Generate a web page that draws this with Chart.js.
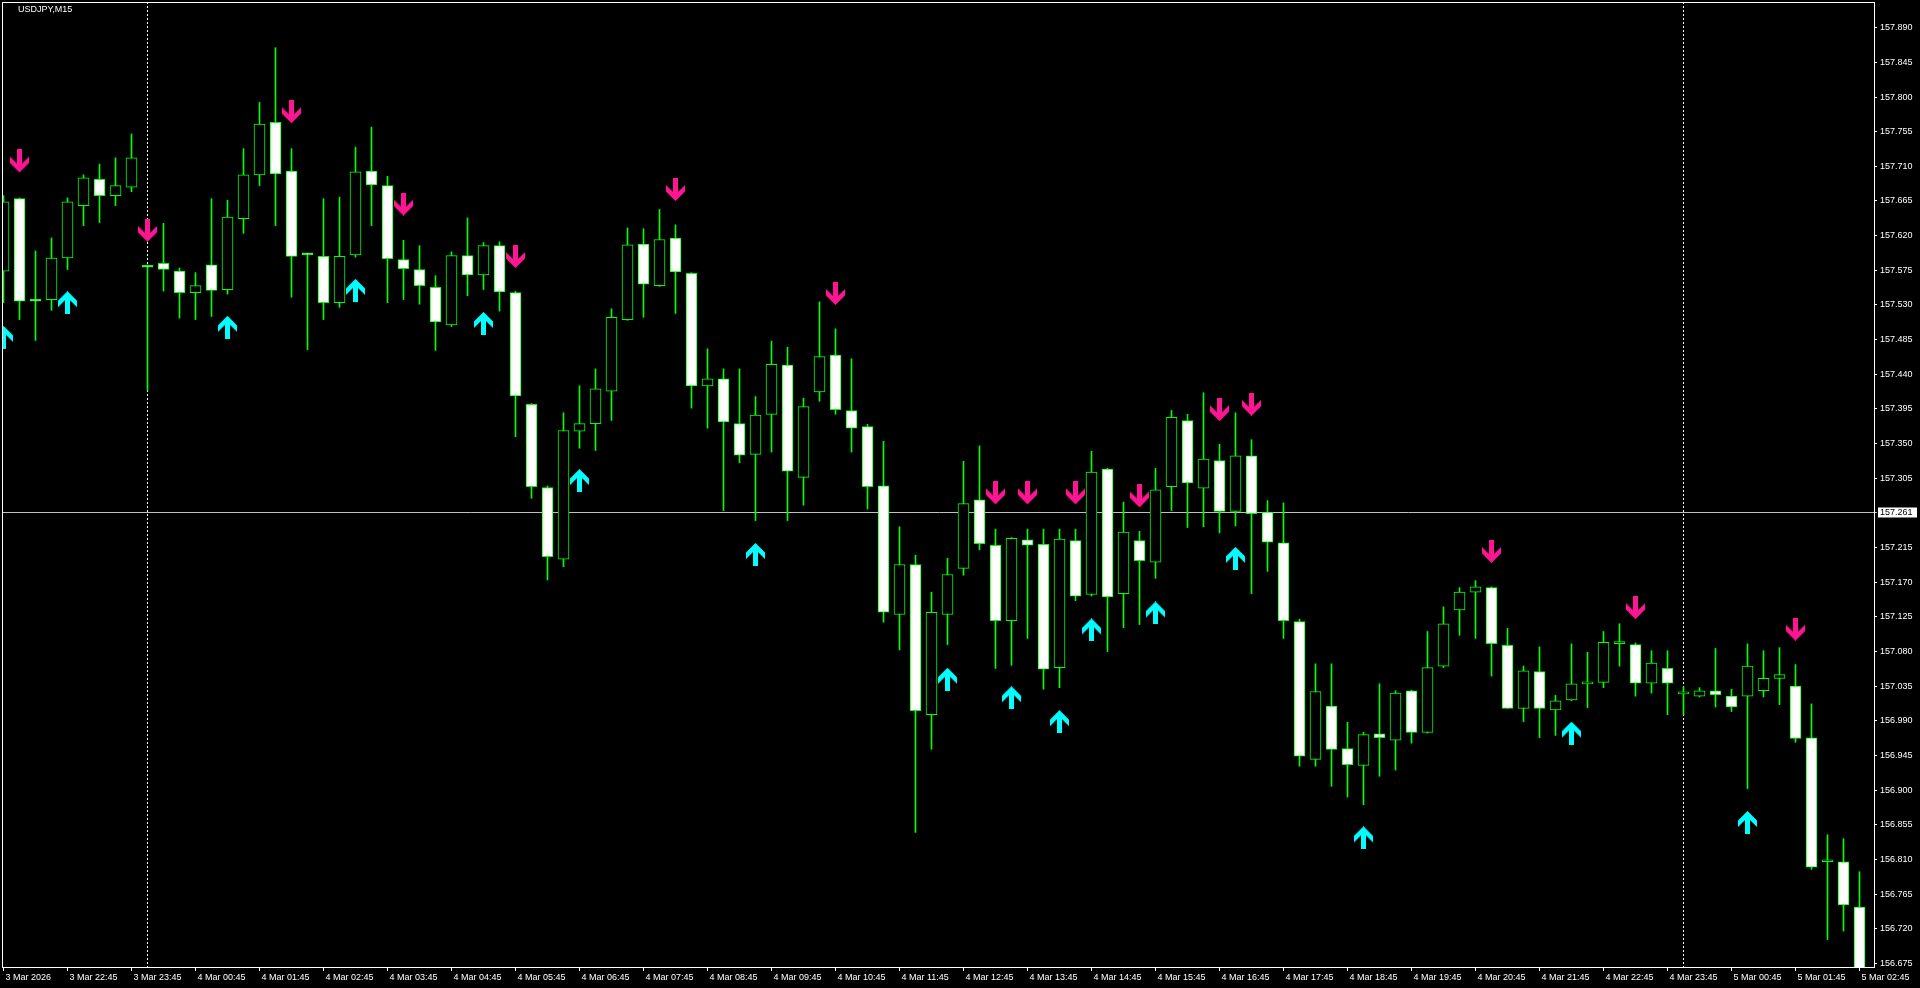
<!DOCTYPE html>
<html>
<head>
<meta charset="utf-8">
<title>USDJPY,M15</title>
<script src="https://cdn.jsdelivr.net/npm/chart.js@4.4.1/dist/chart.umd.min.js"></script>
<style>
  html, body { margin: 0; padding: 0; background: #000; overflow: hidden; }
  #wrap { position: relative; width: 1920px; height: 988px; }
</style>
</head>
<body>
<div id="wrap"><canvas id="chart"></canvas></div>
<script>
// M15 bars, index 0 = 3 Mar 21:45 ... index 116 = 5 Mar 02:45
const opens = [
  157.574, 157.668, 157.537, 157.537, 157.591, 157.659, 157.693, 157.672, 157.683, 157.580,
  157.584, 157.574, 157.546, 157.582, 157.550, 157.642, 157.699, 157.767, 157.704, 157.596,
  157.593, 157.533, 157.595, 157.704, 157.685, 157.589, 157.576, 157.553, 157.504, 157.594,
  157.569, 157.607, 157.546, 157.401, 157.293, 157.200, 157.366, 157.376, 157.418, 157.511,
  157.609, 157.555, 157.617, 157.571, 157.425, 157.434, 157.376, 157.336, 157.388, 157.452,
  157.306, 157.417, 157.465, 157.393, 157.372, 157.295, 157.128, 157.193, 156.998, 157.128,
  157.188, 157.277, 157.218, 157.120, 157.225, 157.219, 157.059, 157.224, 157.154, 157.317,
  157.155, 157.224, 157.196, 157.294, 157.380, 157.292, 157.328, 157.262, 157.334, 157.261,
  157.221, 157.119, 156.940, 157.009, 156.954, 156.932, 156.973, 156.965, 157.029, 156.975,
  157.061, 157.134, 157.157, 157.163, 157.088, 157.006, 157.054, 157.004, 157.017, 157.038,
  157.040, 157.090, 157.089, 157.039, 157.058, 157.025, 157.022, 157.029, 157.022, 157.022,
  157.029, 157.045, 157.035, 156.968, 156.807, 156.807, 156.748
];
const highs = [
  157.672, 157.669, 157.600, 157.617, 157.669, 157.699, 157.713, 157.721, 157.752, 157.582,
  157.636, 157.578, 157.572, 157.668, 157.666, 157.733, 157.793, 157.864, 157.733, 157.597,
  157.668, 157.670, 157.735, 157.761, 157.697, 157.614, 157.607, 157.568, 157.599, 157.643,
  157.611, 157.612, 157.548, 157.402, 157.295, 157.390, 157.425, 157.447, 157.525, 157.630,
  157.629, 157.654, 157.634, 157.572, 157.473, 157.447, 157.447, 157.411, 157.483, 157.475,
  157.409, 157.534, 157.499, 157.460, 157.375, 157.353, 157.242, 157.205, 157.157, 157.201,
  157.327, 157.347, 157.239, 157.228, 157.239, 157.239, 157.239, 157.239, 157.340, 157.318,
  157.274, 157.236, 157.318, 157.393, 157.388, 157.416, 157.349, 157.390, 157.355, 157.276,
  157.273, 157.122, 157.064, 157.064, 156.988, 156.975, 157.038, 157.029, 157.030, 157.106,
  157.138, 157.163, 157.172, 157.164, 157.110, 157.061, 157.086, 157.023, 157.090, 157.079,
  157.106, 157.116, 157.091, 157.081, 157.081, 157.034, 157.033, 157.084, 157.031, 157.090,
  157.081, 157.085, 157.063, 157.012, 156.842, 156.837, 156.794
];
const lows = [
  157.533, 157.511, 157.484, 157.523, 157.576, 157.633, 157.637, 157.659, 157.677, 157.419,
  157.548, 157.513, 157.511, 157.515, 157.544, 157.623, 157.685, 157.633, 157.540, 157.472,
  157.511, 157.527, 157.592, 157.633, 157.533, 157.537, 157.531, 157.471, 157.502, 157.542,
  157.550, 157.522, 157.359, 157.279, 157.173, 157.190, 157.344, 157.341, 157.380, 157.510,
  157.514, 157.554, 157.519, 157.396, 157.370, 157.263, 157.325, 157.250, 157.339, 157.250,
  157.270, 157.405, 157.388, 157.339, 157.265, 157.118, 157.082, 156.845, 156.953, 157.089,
  157.179, 157.212, 157.058, 157.062, 157.097, 157.031, 157.033, 157.146, 157.152, 157.080,
  157.111, 157.115, 157.175, 157.263, 157.241, 157.242, 157.234, 157.243, 157.155, 157.184,
  157.097, 156.931, 156.931, 156.905, 156.891, 156.881, 156.918, 156.926, 156.961, 156.974,
  157.059, 157.101, 157.097, 157.048, 157.006, 156.989, 156.968, 156.971, 157.016, 157.007,
  157.033, 157.061, 157.022, 157.026, 156.998, 156.998, 157.021, 157.008, 157.002, 156.902,
  157.021, 157.011, 156.962, 156.797, 156.706, 156.717, 156.655
];
const closes = [
  157.664, 157.535, 157.535, 157.591, 157.664, 157.695, 157.672, 157.685, 157.721, 157.579,
  157.576, 157.546, 157.555, 157.549, 157.644, 157.699, 157.765, 157.700, 157.593, 157.595,
  157.533, 157.593, 157.703, 157.686, 157.590, 157.577, 157.555, 157.508, 157.594, 157.569,
  157.607, 157.547, 157.412, 157.294, 157.203, 157.367, 157.376, 157.421, 157.514, 157.608,
  157.557, 157.615, 157.573, 157.425, 157.434, 157.378, 157.335, 157.387, 157.453, 157.314,
  157.398, 157.463, 157.394, 157.370, 157.294, 157.131, 157.193, 157.003, 157.131, 157.180,
  157.272, 157.220, 157.120, 157.227, 157.218, 157.057, 157.226, 157.152, 157.313, 157.151,
  157.235, 157.198, 157.290, 157.384, 157.299, 157.330, 157.262, 157.334, 157.259, 157.222,
  157.120, 156.944, 157.028, 156.953, 156.933, 156.972, 156.968, 157.026, 156.975, 157.059,
  157.116, 157.157, 157.164, 157.090, 157.006, 157.055, 157.006, 157.016, 157.038, 157.039,
  157.092, 157.093, 157.039, 157.065, 157.039, 157.025, 157.029, 157.024, 157.008, 157.061,
  157.045, 157.050, 156.967, 156.800, 156.808, 156.751, 156.660
];

// signal arrows (bar index + price where the arrow sits)
const sellBars   = [1, 9, 18, 25, 32, 42, 52, 62, 64, 67, 71, 76, 78, 93, 102, 112];
const sellPrices = [157.717, 157.627, 157.781, 157.661, 157.593, 157.680, 157.545, 157.286, 157.286, 157.286,
                    157.282, 157.394, 157.401, 157.210, 157.137, 157.109];
const buyBars    = [0, 4, 14, 22, 30, 36, 47, 59, 63, 66, 68, 72, 77, 85, 98, 109];
const buyPrices  = [157.488, 157.533, 157.501, 157.549, 157.506, 157.302, 157.206, 157.044, 157.020, 156.989,
                    157.108, 157.130, 157.201, 156.838, 156.974, 156.858];

// axis labels
const timeLabels = [
  '3 Mar 2026', '3 Mar 22:45', '3 Mar 23:45',
  '4 Mar 00:45', '4 Mar 01:45', '4 Mar 02:45', '4 Mar 03:45', '4 Mar 04:45', '4 Mar 05:45',
  '4 Mar 06:45', '4 Mar 07:45', '4 Mar 08:45', '4 Mar 09:45', '4 Mar 10:45', '4 Mar 11:45',
  '4 Mar 12:45', '4 Mar 13:45', '4 Mar 14:45', '4 Mar 15:45', '4 Mar 16:45', '4 Mar 17:45',
  '4 Mar 18:45', '4 Mar 19:45', '4 Mar 20:45', '4 Mar 21:45', '4 Mar 22:45', '4 Mar 23:45',
  '5 Mar 00:45', '5 Mar 01:45', '5 Mar 02:45'
];
const priceTicks = [
  157.890, 157.845, 157.800, 157.755, 157.710, 157.665, 157.620, 157.575, 157.530, 157.485,
  157.440, 157.395, 157.350, 157.305, 157.215, 157.170, 157.125, 157.080, 157.035, 156.990,
  156.945, 156.900, 156.855, 156.810, 156.765, 156.720, 156.675
];

const symbolTitle = 'USDJPY,M15';
const bidPrice = 157.261;
const daySeparators = [9, 105]; // first bar of 4 Mar and 5 Mar

const GREEN = '#00ff00';
const PINK = '#ff1493';
const CYAN = '#00ffff';

// wingdings-like thick arrow, drawn once and used as point style
function makeArrow(color, up) {
    const c = document.createElement('canvas');
    c.width = 19;
    c.height = 23;
    const g = c.getContext('2d');
    if (up) {
        g.translate(0, 23);
        g.scale(1, -1);
    }
    const pts = [[7, 0], [12, 0], [12, 14], [19, 7], [19, 13.5], [9.5, 23], [0, 13.5], [0, 7], [7, 14]];
    g.fillStyle = color;
    g.beginPath();
    pts.forEach(([x, y], k) => k ? g.lineTo(x, y) : g.moveTo(x, y));
    g.closePath();
    g.fill();
    return c;
}

const barIdx = opens.map((_, i) => i);

// frame, separators, bid line, title
const terminalDecor = {
    id: 'terminalDecor',
    beforeDatasetsDraw(chart) {
        const { ctx, chartArea: a, scales: { x, y } } = chart;
        ctx.save();
        ctx.strokeStyle = '#ffffff';
        ctx.lineWidth = 1;
        ctx.setLineDash([2, 2]);
        daySeparators.forEach(i => {
            const px = Math.floor(x.getPixelForValue(i)) + 0.5;
            ctx.beginPath();
            ctx.moveTo(px, a.top);
            ctx.lineTo(px, a.bottom);
            ctx.stroke();
        });
        ctx.setLineDash([]);
        const by = Math.floor(y.getPixelForValue(bidPrice)) + 0.5;
        ctx.strokeStyle = '#c0c0c0';
        ctx.beginPath();
        ctx.moveTo(a.left, by);
        ctx.lineTo(a.right + 3, by);
        ctx.stroke();
        ctx.restore();
    },
    afterDraw(chart) {
        const { ctx, chartArea: a, scales: { y } } = chart;
        ctx.save();
        ctx.strokeStyle = '#ffffff';
        ctx.lineWidth = 1;
        ctx.strokeRect(a.left + 0.5, a.top + 0.5, a.right - a.left, a.bottom - a.top);
        // bid label
        const by = Math.floor(y.getPixelForValue(bidPrice)) + 0.5;
        ctx.fillStyle = '#ffffff';
        ctx.fillRect(a.right + 4, by - 5, 39, 10);
        ctx.fillStyle = '#000000';
        ctx.font = '9px "Liberation Sans"';
        ctx.textBaseline = 'middle';
        ctx.fillText(bidPrice.toFixed(3), a.right + 6, by + 0.5);
        // symbol title
        ctx.fillStyle = '#ffffff';
        ctx.fillText(symbolTitle, 18, 10);
        ctx.restore();
    }
};

Chart.defaults.font.family = '"Liberation Sans", Arial, sans-serif';
Chart.defaults.font.size = 9;
Chart.defaults.color = '#ffffff';

new Chart(document.getElementById('chart'), {
    type: 'bar',
    data: {
        datasets: [
            {
                type: 'scatter',
                label: 'sell',
                data: sellBars.map((b, k) => ({ x: b, y: sellPrices[k] })),
                pointStyle: makeArrow(PINK, false),
                pointRadius: 10,
                clip: false,
                order: 0
            },
            {
                type: 'scatter',
                label: 'buy',
                data: buyBars.map((b, k) => ({ x: b, y: buyPrices[k] })),
                pointStyle: makeArrow(CYAN, true),
                pointRadius: 10,
                order: 0
            },
            {
                label: 'body',
                data: barIdx.map(i => ({ x: i, y: [opens[i], closes[i]] })),
                backgroundColor: barIdx.map(i => closes[i] < opens[i] ? '#ffffff' : '#000000'),
                borderColor: GREEN,
                borderWidth: 1,
                borderSkipped: false,
                barThickness: 11,
                minBarLength: 2,
                grouped: false,
                order: 1
            },
            {
                label: 'wick',
                data: barIdx.map(i => ({ x: i, y: [lows[i], highs[i]] })),
                backgroundColor: GREEN,
                borderWidth: 0,
                barThickness: 1,
                grouped: false,
                order: 2
            }
        ]
    },
    options: {
        responsive: true,
        maintainAspectRatio: false,
        animation: false,
        layout: { autoPadding: false, padding: { left: 2, top: 2, right: 0, bottom: 0 } },
        plugins: {
            legend: { display: false },
            tooltip: { enabled: false }
        },
        scales: {
            x: {
                type: 'linear',
                offset: false,
                min: -0.09375,
                max: 116.90625,
                border: { display: false },
                grid: {
                    offset: false,
                    drawOnChartArea: false,
                    drawTicks: true,
                    tickLength: 4,
                    color: '#ffffff'
                },
                afterBuildTicks: s => { s.ticks = timeLabels.map((_, k) => ({ value: k * 4 })); },
                afterFit: s => { s.height = 21; s.paddingLeft = 0; s.paddingRight = 0; },
                ticks: {
                    autoSkip: false,
                    maxRotation: 0,
                    align: 'start',
                    labelOffset: 2,
                    padding: 1,
                    color: '#ffffff',
                    callback: v => timeLabels[Math.round(v / 4)]
                }
            },
            y: {
                position: 'right',
                min: 156.6703,
                max: 157.9234,
                border: { display: false },
                grid: {
                    drawOnChartArea: false,
                    drawTicks: true,
                    tickLength: 3,
                    color: '#ffffff'
                },
                afterBuildTicks: s => { s.ticks = priceTicks.map(v => ({ value: v })); },
                afterFit: s => { s.width = 46; s.paddingTop = 0; s.paddingBottom = 0; },
                ticks: {
                    autoSkip: false,
                    padding: 3,
                    color: '#ffffff',
                    callback: v => v.toFixed(3)
                }
            }
        }
    },
    plugins: [terminalDecor]
});
</script>
</body>
</html>
